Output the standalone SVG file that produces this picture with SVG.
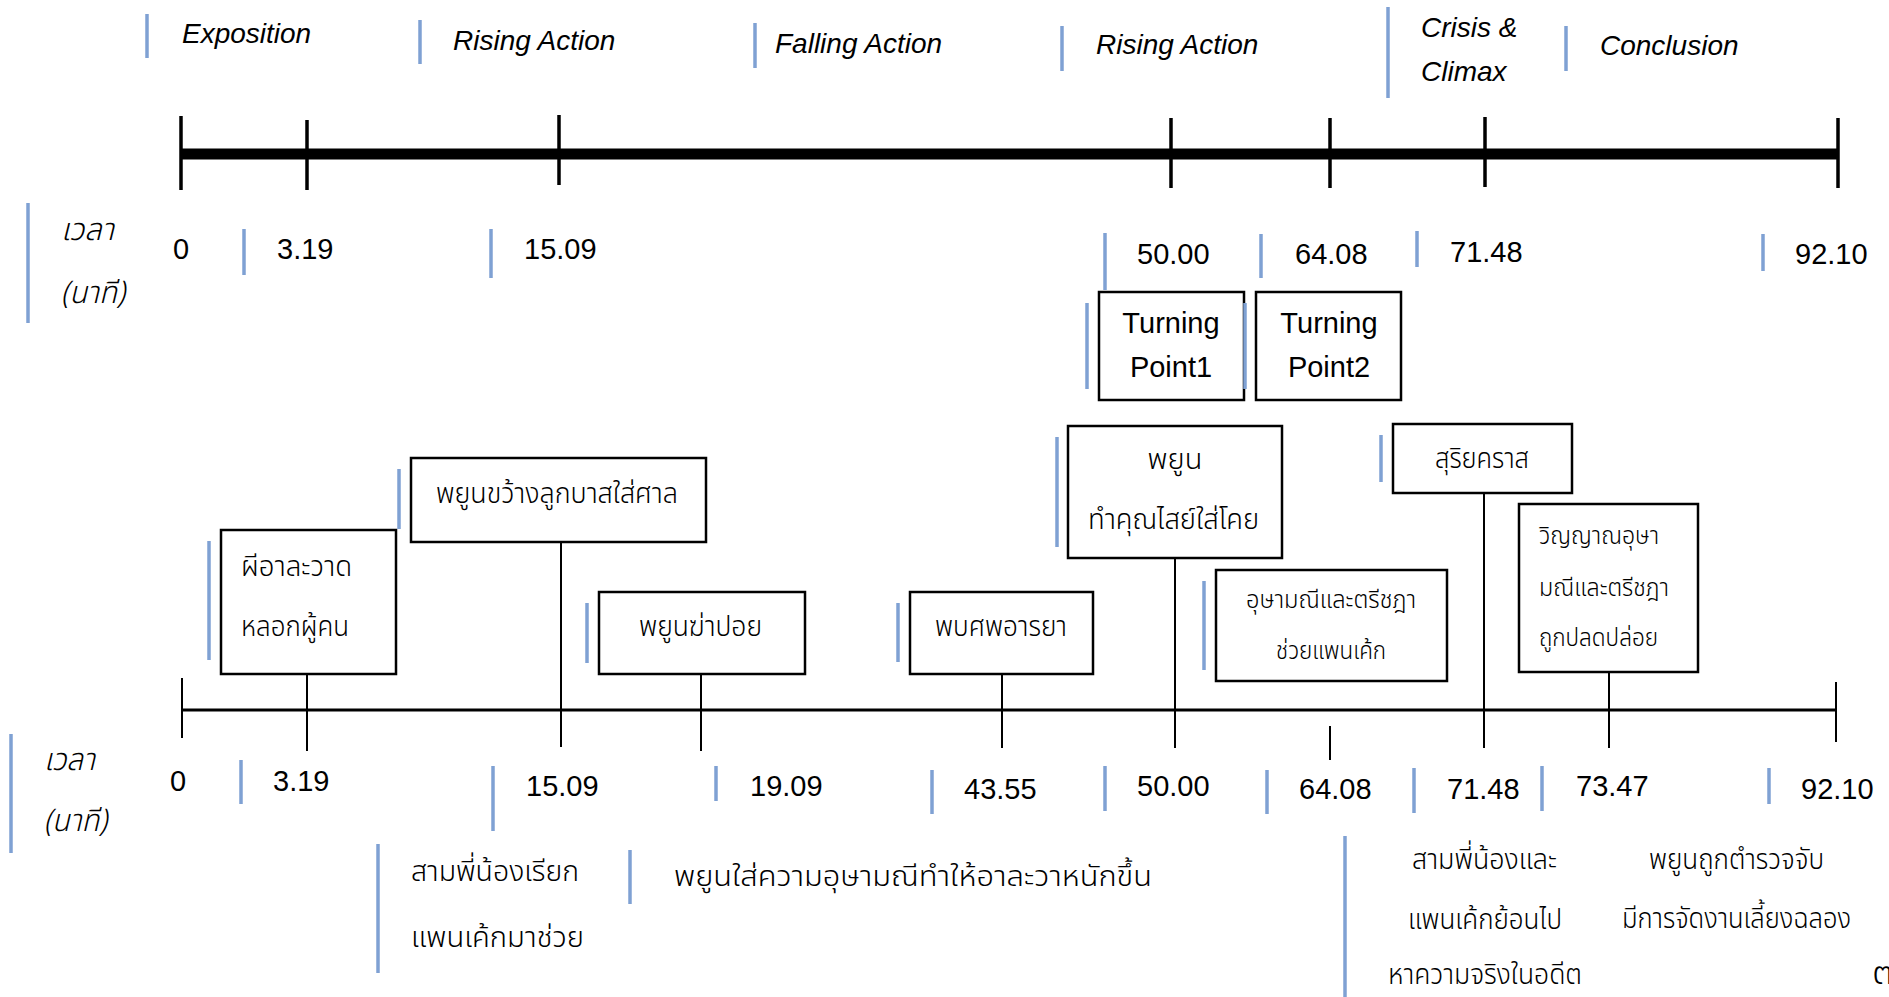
<svg xmlns="http://www.w3.org/2000/svg" width="1889" height="997" viewBox="0 0 1889 997">
<style>
.bl{stroke:#7FA1D3;stroke-width:3.5;fill:none}
.bx{fill:#fff;stroke:#000;stroke-width:2.5}
.ln{stroke:#000;stroke-width:2;fill:none}
.tk{stroke:#000;stroke-width:3.5;fill:none}
.en{font-family:"Liberation Sans",Arial,sans-serif;font-size:28px;font-style:italic;fill:#000}
.num{font-family:"Liberation Sans",Arial,sans-serif;font-size:29px;fill:#000}
.th{font-family:"Noto Sans Thai","Noto Sans","DejaVu Sans",sans-serif;font-size:29px;font-weight:300;fill:#000}
.ths{font-family:"Noto Sans Thai","Noto Sans","DejaVu Sans",sans-serif;font-size:24px;font-weight:300;fill:#000}
.thi{font-family:"Noto Sans Thai","Noto Sans","DejaVu Sans",sans-serif;font-size:31px;font-weight:300;font-style:italic;fill:#000}
</style>
<rect width="1889" height="997" fill="#fff"/>

<!-- top timeline -->
<g id="top-timeline">
<line x1="181" y1="154" x2="1838" y2="154" stroke="#000" stroke-width="11"/>
<line class="tk" x1="181" y1="116" x2="181" y2="190"/>
<line class="tk" x1="307" y1="120" x2="307" y2="190"/>
<line class="tk" x1="559" y1="115" x2="559" y2="185"/>
<line class="tk" x1="1171" y1="118" x2="1171" y2="188"/>
<line class="tk" x1="1330" y1="118" x2="1330" y2="188"/>
<line class="tk" x1="1485" y1="117" x2="1485" y2="187"/>
<line class="tk" x1="1838" y1="118" x2="1838" y2="188"/>
</g>

<g id="phase-labels">
<line class="bl" x1="147" y1="14" x2="147" y2="58"/>
<text class="en" x="182" y="43">Exposition</text>
<line class="bl" x1="420" y1="20" x2="420" y2="64"/>
<text class="en" x="453" y="50">Rising Action</text>
<line class="bl" x1="755" y1="23" x2="755" y2="68"/>
<text class="en" x="775" y="53">Falling Action</text>
<line class="bl" x1="1062" y1="26" x2="1062" y2="71"/>
<text class="en" x="1096" y="54">Rising Action</text>
<line class="bl" x1="1388" y1="7" x2="1388" y2="98"/>
<text class="en" x="1421" y="37">Crisis &amp;</text>
<text class="en" x="1421" y="81">Climax</text>
<line class="bl" x1="1566" y1="26" x2="1566" y2="71"/>
<text class="en" x="1600" y="55">Conclusion</text>
</g>

<g id="time-row-1">
<line class="bl" x1="28" y1="203" x2="28" y2="323"/>
<text class="thi" x="61" y="240" textLength="53" lengthAdjust="spacingAndGlyphs">เวลา</text>
<text class="thi" x="61" y="303" textLength="64" lengthAdjust="spacingAndGlyphs">(นาที)</text>
<text class="num" x="173" y="259">0</text>
<line class="bl" x1="244" y1="229" x2="244" y2="275"/>
<text class="num" x="277" y="259">3.19</text>
<line class="bl" x1="491" y1="229" x2="491" y2="278"/>
<text class="num" x="524" y="259">15.09</text>
<line class="bl" x1="1105" y1="233" x2="1105" y2="290"/>
<text class="num" x="1137" y="264">50.00</text>
<line class="bl" x1="1261" y1="234" x2="1261" y2="278"/>
<text class="num" x="1295" y="264">64.08</text>
<line class="bl" x1="1417" y1="231" x2="1417" y2="267"/>
<text class="num" x="1450" y="262">71.48</text>
<line class="bl" x1="1763" y1="234" x2="1763" y2="271"/>
<text class="num" x="1795" y="264">92.10</text>
</g>

<g id="turning-point-1">
<rect class="bx" x="1099" y="292" width="145" height="108"/>
<text class="num" x="1171" y="333" text-anchor="middle">Turning</text>
<text class="num" x="1171" y="377" text-anchor="middle">Point1</text>
<line class="bl" x1="1087" y1="303" x2="1087" y2="389"/>
<line class="bl" x1="1245" y1="303" x2="1245" y2="389"/>
</g>
<g id="turning-point-2">
<rect class="bx" x="1256" y="292" width="145" height="108"/>
<text class="num" x="1329" y="333" text-anchor="middle">Turning</text>
<text class="num" x="1329" y="377" text-anchor="middle">Point2</text>
</g>

<!-- connectors -->
<g id="connectors">
<line x1="182" y1="710" x2="1836" y2="710" stroke="#000" stroke-width="3"/>
<line class="ln" x1="182" y1="678" x2="182" y2="738"/>
<line class="ln" x1="1836" y1="682" x2="1836" y2="742"/>
<line class="ln" x1="307" y1="674" x2="307" y2="751"/>
<line class="ln" x1="561" y1="542" x2="561" y2="747"/>
<line class="ln" x1="701" y1="674" x2="701" y2="751"/>
<line class="ln" x1="1002" y1="674" x2="1002" y2="748"/>
<line class="ln" x1="1175" y1="558" x2="1175" y2="748"/>
<line class="ln" x1="1330" y1="726" x2="1330" y2="760"/>
<line class="ln" x1="1484" y1="493" x2="1484" y2="748"/>
<line class="ln" x1="1609" y1="672" x2="1609" y2="748"/>
</g>

<g id="event-ghost">
<rect class="bx" x="221" y="530" width="175" height="144"/>
<text class="th" x="241" y="576" textLength="111" lengthAdjust="spacingAndGlyphs">ผีอาละวาด</text>
<text class="th" x="241" y="636" textLength="108" lengthAdjust="spacingAndGlyphs">หลอกผู้คน</text>
<line class="bl" x1="209" y1="541" x2="209" y2="660"/>
</g>
<g id="event-ball">
<rect class="bx" x="411" y="458" width="295" height="84"/>
<text class="th" x="436" y="503" textLength="242" lengthAdjust="spacingAndGlyphs">พยูนขว้างลูกบาสใส่ศาล</text>
<line class="bl" x1="399" y1="469" x2="399" y2="529"/>
</g>
<g id="event-kill">
<rect class="bx" x="599" y="592" width="206" height="82"/>
<text class="th" x="639" y="636" textLength="123" lengthAdjust="spacingAndGlyphs">พยูนฆ่าปอย</text>
<line class="bl" x1="587" y1="603" x2="587" y2="663"/>
</g>
<g id="event-body">
<rect class="bx" x="910" y="592" width="183" height="82"/>
<text class="th" x="935" y="636" textLength="132" lengthAdjust="spacingAndGlyphs">พบศพอารยา</text>
<line class="bl" x1="898" y1="603" x2="898" y2="662"/>
</g>
<g id="event-curse">
<rect class="bx" x="1068" y="426" width="214" height="132"/>
<text class="th" x="1175" y="469" text-anchor="middle">พยูน</text>
<text class="th" x="1088" y="529" textLength="171" lengthAdjust="spacingAndGlyphs">ทำคุณไสย์ใส่โคย</text>
<line class="bl" x1="1057" y1="437" x2="1057" y2="547"/>
</g>
<g id="event-help">
<rect class="bx" x="1216" y="570" width="231" height="111"/>
<text class="ths" x="1246" y="608" textLength="170" lengthAdjust="spacingAndGlyphs">อุษามณีและตรีชฎา</text>
<text class="ths" x="1276" y="659" textLength="110" lengthAdjust="spacingAndGlyphs">ช่วยแพนเค้ก</text>
<line class="bl" x1="1204" y1="581" x2="1204" y2="670"/>
</g>
<g id="event-eclipse">
<rect class="bx" x="1393" y="424" width="179" height="69"/>
<text class="th" x="1435" y="468" textLength="94" lengthAdjust="spacingAndGlyphs">สุริยคราส</text>
<line class="bl" x1="1381" y1="435" x2="1381" y2="482"/>
</g>
<g id="event-freed">
<rect class="bx" x="1519" y="504" width="179" height="168"/>
<text class="ths" x="1539" y="544" textLength="120" lengthAdjust="spacingAndGlyphs">วิญญาณอุษา</text>
<text class="ths" x="1539" y="596" textLength="130" lengthAdjust="spacingAndGlyphs">มณีและตรีชฎา</text>
<text class="ths" x="1539" y="646" textLength="119" lengthAdjust="spacingAndGlyphs">ถูกปลดปล่อย</text>
</g>

<g id="time-row-2">
<line class="bl" x1="11" y1="734" x2="11" y2="853"/>
<text class="thi" x="44" y="770" textLength="51" lengthAdjust="spacingAndGlyphs">เวลา</text>
<text class="thi" x="44" y="831" textLength="63" lengthAdjust="spacingAndGlyphs">(นาที)</text>
<text class="num" x="170" y="791">0</text>
<line class="bl" x1="241" y1="760" x2="241" y2="804"/>
<text class="num" x="273" y="791">3.19</text>
<line class="bl" x1="493" y1="766" x2="493" y2="831"/>
<text class="num" x="526" y="796">15.09</text>
<line class="bl" x1="716" y1="766" x2="716" y2="801"/>
<text class="num" x="750" y="796">19.09</text>
<line class="bl" x1="932" y1="770" x2="932" y2="814"/>
<text class="num" x="964" y="799">43.55</text>
<line class="bl" x1="1105" y1="766" x2="1105" y2="811"/>
<text class="num" x="1137" y="796">50.00</text>
<line class="bl" x1="1267" y1="770" x2="1267" y2="814"/>
<text class="num" x="1299" y="799">64.08</text>
<line class="bl" x1="1414" y1="768" x2="1414" y2="813"/>
<text class="num" x="1447" y="799">71.48</text>
<line class="bl" x1="1542" y1="766" x2="1542" y2="811"/>
<text class="num" x="1576" y="796">73.47</text>
<line class="bl" x1="1769" y1="768" x2="1769" y2="804"/>
<text class="num" x="1801" y="799">92.10</text>
</g>

<g id="notes">
<line class="bl" x1="378" y1="844" x2="378" y2="973"/>
<text class="th" x="411" y="881" textLength="168" lengthAdjust="spacingAndGlyphs">สามพี่น้องเรียก</text>
<text class="th" x="411" y="947" textLength="173" lengthAdjust="spacingAndGlyphs">แพนเค้กมาช่วย</text>
<line class="bl" x1="630" y1="850" x2="630" y2="904"/>
<text class="th" x="674" y="886" textLength="478" lengthAdjust="spacingAndGlyphs">พยูนใส่ความอุษามณีทำให้อาละวาหนักขึ้น</text>
<line class="bl" x1="1345" y1="836" x2="1345" y2="997"/>
<text class="th" x="1412" y="869" textLength="145" lengthAdjust="spacingAndGlyphs">สามพี่น้องและ</text>
<text class="th" x="1408" y="929" textLength="154" lengthAdjust="spacingAndGlyphs">แพนเค้กย้อนไป</text>
<text class="th" x="1388" y="984" textLength="194" lengthAdjust="spacingAndGlyphs">หาความจริงในอดีต</text>
<text class="th" x="1649" y="869" textLength="175" lengthAdjust="spacingAndGlyphs">พยูนถูกตำรวจจับ</text>
<text class="th" x="1622" y="928" textLength="229" lengthAdjust="spacingAndGlyphs">มีการจัดงานเลี้ยงฉลอง</text>
<text class="th" x="1872" y="984" style="font-size:38px">๓</text>
</g>
</svg>
